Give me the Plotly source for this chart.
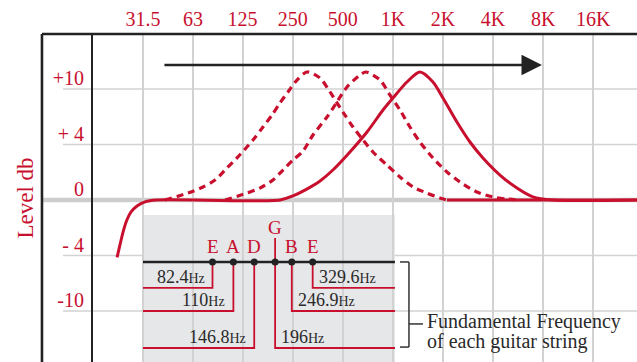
import numpy as np
import plotly.graph_objects as go

RED = "#c8102e"
INK = "#222222"
GRID = "#d2d2d2"
FONT = "Liberation Serif"

# ---- axis definitions ----
BAND_FREQ = [31.5, 63, 125, 250, 500, 1000, 2000, 4000, 8000, 16000]
BAND_LABELS = ["31.5", "63", "125", "250", "500", "1K", "2K", "4K", "8K", "16K"]
LEVEL_TICKS_DB = [10, 4, 0, -4, -10]
LEVEL_TICK_TEXT = ["+10", "+ 4", "0", "- 4", "-10"]

# ---- EQ curves (Hz, dB) ----
SOLID_FREQ = [22, 22.9, 23.9, 25.2, 26.7, 29, 32.4, 38, 210, 251, 300, 365, 436,
              552, 699, 872, 1001, 1215, 1454, 1741, 2000, 2426, 2905, 3477, 4400,
              5566, 6943, 9160, 30000]
SOLID_DB = [-4.2, -3.24, -2.31, -1.44, -0.86, -0.43, -0.14, 0, 0, 0.3, 0.75, 1.37,
            2.16, 3.46, 5.35, 7.73, 9.03, 10.76, 11.84, 10.76, 9.03, 6.43, 4.27, 3.03,
            1.80, 0.86, 0.22, 0, 0]

DASH1_FREQ = [42.7, 58.7, 72.3, 85.3, 100.7, 115.6, 144.3, 165.7, 187.7, 209.7, 234.2,
              265.3, 304.5, 364.6, 418.9, 501, 575.8, 660.9, 759, 921, 1103, 1320,
              1603, 1918, 2113]
DASH1_DB = [0, 0.50, 0.94, 1.44, 2.31, 3.03, 4.49, 5.89, 7.19, 8.49, 9.68, 10.97, 11.84,
            11.19, 9.68, 7.51, 5.89, 4.49, 3.46, 2.52, 1.66, 0.94, 0.50, 0.14, 0]

DASH2_FREQ = [98, 132.8, 158.9, 190.3, 218.5, 251, 288.3, 331, 401.8, 461, 529.8, 634,
              689, 836.6, 960, 1103, 1266, 1454, 1741, 2113, 2529, 3200, 3994, 4845, 5802]
DASH2_DB = [0, 0.50, 0.86, 1.44, 2.16, 2.88, 3.53, 5.03, 6.97, 8.59, 10.22, 11.51, 11.84,
            10.97, 9.35, 7.73, 5.89, 4.27, 3.03, 2.02, 1.30, 0.58, 0.22, 0.07, 0]

FLAT_FREQ = [2113, 30000]
FLAT_DB = [0, 0]

# ---- guitar strings ----
STRING_NAMES = ["E", "A", "D", "G", "B", "E"]
STRING_FREQ = [82.4, 110, 146.8, 196, 246.9, 329.6]
STRING_VALUE_TEXT = ["82.4", "110", "146.8", "196", "246.9", "329.6"]
STRING_LEADER_DB = [-7.5, -10, -14, -14, -10, -7.5]
STRING_SIDE = ["left", "left", "left", "right", "right", "right"]
STRING_BASE_DB = -4.7
BOX_FREQ = [31.5, 1029]
BOX_TOP_DB = -1.08
G_STEM_DB = -2.74

ARROW_FREQ = [41.5, 7865]
ARROW_DB = 12.6

LEGEND_LINES = ["Fundamental Frequency", "of each guitar string"]

# nonlinear level scale: ticks equally spaced
AXIS_DB = [-16, -10, -4, 0, 4, 10, 16]
AXIS_POS = [-3, -2, -1, 0, 1, 2, 3]


def pos(db):
    return np.interp(db, AXIS_DB, AXIS_POS)


fig = go.Figure()

# curves
fig.add_trace(go.Scatter(x=DASH1_FREQ, y=pos(DASH1_DB), mode="lines",
                         line=dict(color=RED, width=3.2, dash="7px,5px", shape="spline", smoothing=0.8),
                         hoverinfo="skip"))
fig.add_trace(go.Scatter(x=DASH2_FREQ, y=pos(DASH2_DB), mode="lines",
                         line=dict(color=RED, width=3.2, dash="7px,5px", shape="spline", smoothing=0.8),
                         hoverinfo="skip"))
fig.add_trace(go.Scatter(x=FLAT_FREQ, y=pos(FLAT_DB), mode="lines",
                         line=dict(color=RED, width=3), hoverinfo="skip"))
fig.add_trace(go.Scatter(x=SOLID_FREQ, y=pos(SOLID_DB), mode="lines",
                         line=dict(color=RED, width=3, shape="spline", smoothing=0.8),
                         hoverinfo="skip"))

# string leaders
for f, lead, side in zip(STRING_FREQ, STRING_LEADER_DB, STRING_SIDE):
    end = BOX_FREQ[0] if side == "left" else BOX_FREQ[1]
    fig.add_trace(go.Scatter(x=[f, f, end], y=pos([STRING_BASE_DB, lead, lead]), mode="lines",
                             line=dict(color=RED, width=1.8), hoverinfo="skip"))
# G stem
fig.add_trace(go.Scatter(x=[STRING_FREQ[3], STRING_FREQ[3]], y=pos([STRING_BASE_DB, G_STEM_DB]),
                         mode="lines", line=dict(color=RED, width=1.8), hoverinfo="skip"))
# baseline and dots
fig.add_trace(go.Scatter(x=BOX_FREQ, y=pos([STRING_BASE_DB, STRING_BASE_DB]), mode="lines",
                         line=dict(color=INK, width=2.6), hoverinfo="skip"))
fig.add_trace(go.Scatter(x=STRING_FREQ, y=pos([STRING_BASE_DB] * 6), mode="markers",
                         marker=dict(color=INK, size=7), hoverinfo="skip"))

shapes = []
# gray box
shapes.append(dict(type="rect", xref="x", yref="y", x0=BOX_FREQ[0], x1=BOX_FREQ[1],
                   y0=float(pos(BOX_TOP_DB)), y1=-5, fillcolor="#e6e7e8", line_width=0, layer="below"))
# horizontal grid lines (extend into the label column)
for db in LEVEL_TICKS_DB:
    if db == 0:
        continue
    shapes.append(dict(type="line", xref="paper", yref="y", x0=-0.0551, x1=1,
                       y0=float(pos(db)), y1=float(pos(db)), line=dict(color=GRID, width=1.6), layer="below"))
shapes.append(dict(type="line", xref="paper", yref="y", x0=-0.0919, x1=1, y0=0, y1=0,
                   line=dict(color="#cdcdcd", width=4.5), layer="below"))
# frame
shapes.append(dict(type="line", xref="paper", yref="paper", x0=-0.0938, x1=1, y0=1, y1=1,
                   line=dict(color=INK, width=2.6), layer="above"))
shapes.append(dict(type="line", xref="paper", yref="paper", x0=-0.0938, x1=-0.0938, y0=-0.01, y1=1,
                   line=dict(color=INK, width=2.6), layer="above"))
# bracket
bx, bl, br = 1249, 1103, 1516
yt, yb, ym = float(pos(STRING_BASE_DB)), float(pos(-13.9)), float(pos(-11.4))
for xa, ya, xb2, yb2 in [(bl, yt, bx, yt), (bx, yt, bx, yb), (bl, yb, bx, yb), (bx, ym, br, ym)]:
    shapes.append(dict(type="line", xref="x", yref="y", x0=xa, x1=xb2, y0=ya, y1=yb2,
                       line=dict(color="#333333", width=1.5), layer="above"))

annotations = []
# arrow
annotations.append(dict(x=np.log10(ARROW_FREQ[1]), y=float(pos(ARROW_DB)),
                        ax=np.log10(ARROW_FREQ[0]), ay=float(pos(ARROW_DB)),
                        xref="x", yref="y", axref="x", ayref="y", text="", showarrow=True,
                        arrowhead=2, arrowsize=1.7, arrowwidth=2.4, arrowcolor=INK))
# string letters and values
for i, (name, f, txt, lead, side) in enumerate(zip(STRING_NAMES, STRING_FREQ, STRING_VALUE_TEXT,
                                                   STRING_LEADER_DB, STRING_SIDE)):
    annotations.append(dict(x=np.log10(f), y=float(pos(STRING_BASE_DB)), xref="x", yref="y",
                            text=name, showarrow=False, yanchor="middle",
                            yshift=34 if name == "G" else 15,
                            font=dict(family=FONT, size=19, color=RED)))
    annotations.append(dict(x=np.log10(f), y=float(pos(lead)), xref="x", yref="y",
                            text=txt + "<span style='font-size:14px'>Hz</span>", showarrow=False,
                            xanchor="right" if side == "left" else "left",
                            xshift=-6 if side == "left" else 4, yanchor="bottom", yshift=-1,
                            font=dict(family=FONT, size=18, color="#2a2a2a")))
# legend text
for k, line in enumerate(LEGEND_LINES):
    annotations.append(dict(x=np.log10(1559), y=float(pos(-11.4)), xref="x", yref="y",
                            text=line, showarrow=False, xanchor="left", yanchor="middle",
                            yshift=2 - 20 * k, font=dict(family=FONT, size=20, color="#2a2a2a")))

fig.update_layout(
    width=637, height=362,
    margin=dict(l=93, r=0, t=34, b=0, autoexpand=False),
    paper_bgcolor="white", plot_bgcolor="white",
    showlegend=False,
    shapes=shapes, annotations=annotations,
    font=dict(family=FONT),
    xaxis=dict(type="log", range=[1.1978, 4.4670], side="top", automargin=False,
               tickmode="array", tickvals=BAND_FREQ, ticktext=BAND_LABELS,
               showgrid=True, gridcolor=GRID, gridwidth=2, ticks="", showline=False,
               zeroline=False, ticklabelstandoff=3,
               tickfont=dict(family=FONT, size=20, color=RED)),
    yaxis=dict(range=[-2.919, 2.991], tickmode="array", tickvals=list(pos(LEVEL_TICKS_DB)),
               ticktext=LEVEL_TICK_TEXT, showgrid=False, zeroline=False, ticks="",
               showline=True, linecolor=INK, linewidth=2, automargin=False,
               ticklabelstandoff=3, ticklabelshift=-11,
               tickfont=dict(family=FONT, size=20, color=RED),
               title=dict(text="Level db", font=dict(family=FONT, size=23, color=RED), standoff=13)),
)

fig.write_html("out.html", config={"displayModeBar": False},
               post_script="document.body.style.margin='0';document.body.style.padding='0';")
